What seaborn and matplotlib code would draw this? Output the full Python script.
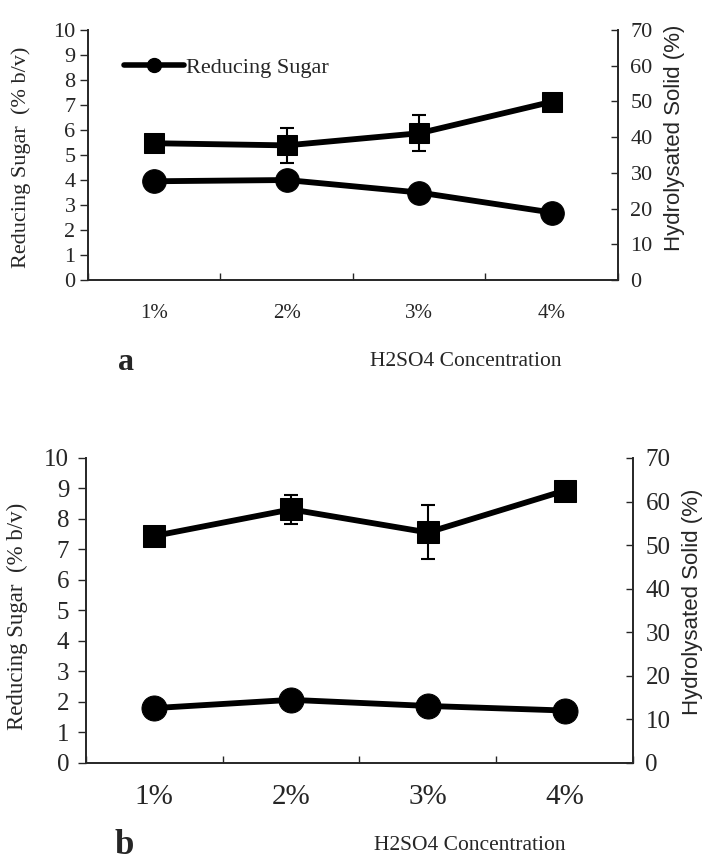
import matplotlib
matplotlib.use("Agg")
import matplotlib.pyplot as plt
import seaborn as sns
import numpy as np
import pandas as pd
from matplotlib.lines import Line2D

# data
conc = ["1%", "2%", "3%", "4%"]

sugar_a = [3.95, 4.0, 3.5, 2.7]        # Reducing sugar (% b/v), panel a
solid_a = [38.3, 37.7, 41.1, 49.9]     # Hydrolysated solid (%), panel a
solid_a_err = [0, 4.8, 5.0, 0]

sugar_b = [1.8, 2.07, 1.87, 1.72]
solid_b = [52.1, 58.2, 52.9, 62.5]
solid_b_err = [0, 3.3, 6.2, 0]

sns.set_style("ticks")
plt.rcParams['font.family'] = ['Liberation Serif', 'DejaVu Serif']

fig = plt.figure(figsize=(7.06, 8.60), dpi=100)


def panel(rect, sugar, solid, err, ytick_fs, xtick_fs, lab_fs, ms_c, ms_s,
          xpad, lpad, left_lab, right_lab, legend=False):
    ax = fig.add_axes(rect)
    ax2 = ax.twinx()
    x = np.arange(len(conc))
    df = pd.DataFrame({"x": x, "sugar": sugar, "solid": solid, "err": err})

    sns.lineplot(data=df, x="x", y="sugar", ax=ax, color="black", lw=4.2,
                 marker="o", markersize=ms_c, markeredgecolor="black")
    sns.lineplot(data=df, x="x", y="solid", ax=ax2, color="black", lw=4.2,
                 marker="s", markersize=ms_s, markeredgecolor="black")
    e = df[df["err"] > 0]
    ax2.errorbar(e["x"], e["solid"], yerr=e["err"], fmt="none", ecolor="black",
                 elinewidth=1.5, capsize=5, capthick=1.5)

    ax.set_xlim(-0.5, 3.5)
    ax.set_ylim(0, 10)
    ax2.set_ylim(0, 70)
    ax.set_yticks(range(0, 11))
    ax2.set_yticks(range(0, 71, 10))
    ax.set_xticks(x)
    ax.set_xticklabels(conc, fontsize=xtick_fs)
    ax.set_xticks(np.arange(-0.5, 4, 1), minor=True)
    ax.tick_params(axis="x", which="major", length=0, pad=xpad)
    ax.tick_params(axis="x", which="minor", direction="in", length=5, width=1)
    ax.tick_params(axis="y", direction="out", length=6, width=1, labelsize=ytick_fs, pad=lpad)
    ax2.tick_params(axis="y", direction="in", length=5, width=1, labelsize=ytick_fs, pad=9)

    ax.set_xlabel("")
    ax.set_ylabel("Reducing Sugar  (% b/v)", fontsize=lab_fs)
    ax2.set_ylabel("Hydrolysated Solid (%)", fontsize=16,
                   family=["Liberation Sans", "DejaVu Sans"])
    ax.yaxis.set_label_coords(*left_lab)
    ax2.yaxis.set_label_coords(*right_lab)

    for a in (ax, ax2):
        a.spines["top"].set_visible(False)
        for s in a.spines.values():
            s.set_linewidth(1.4)
    ax.spines["right"].set_visible(False)
    ax2.spines["left"].set_visible(False)
    ax2.spines["bottom"].set_visible(False)

    if legend:
        h = Line2D([], [], color="black", lw=4, marker="o", markersize=10)
        ax.legend([h], ["Reducing Sugar"], loc="upper left", bbox_to_anchor=(0.03, 0.97),
                  frameon=False, fontsize=16, handlelength=2.7, handletextpad=0.1)
    return ax, ax2


panel([0.1246, 0.6744, 0.7507, 0.2907], sugar_a, solid_a, solid_a_err,
      ytick_fs=16, xtick_fs=15, lab_fs=16, ms_c=17, ms_s=15, xpad=17, lpad=3,
      left_lab=(-0.108, 0.49), right_lab=(1.087, 0.57), legend=True)
panel([0.1218, 0.1128, 0.7748, 0.3547], sugar_b, solid_b, solid_b_err,
      ytick_fs=18, xtick_fs=21, lab_fs=16.5, ms_c=18, ms_s=16, xpad=15, lpad=6,
      left_lab=(-0.106, 0.48), right_lab=(1.09, 0.53))

fig.text(126 / 706, 1 - 362 / 860, "a", fontsize=23, fontweight="bold", ha="center", va="center")
fig.text(466 / 706, 1 - 362 / 860, "H2SO4 Concentration", fontsize=15.5, ha="center", va="center")
fig.text(124 / 706, 1 - 845 / 860, "b", fontsize=25, fontweight="bold", ha="center", va="center")
fig.text(470 / 706, 1 - 845 / 860, "H2SO4 Concentration", fontsize=15.5, ha="center", va="center")

fig.savefig("out.png", dpi=100)
